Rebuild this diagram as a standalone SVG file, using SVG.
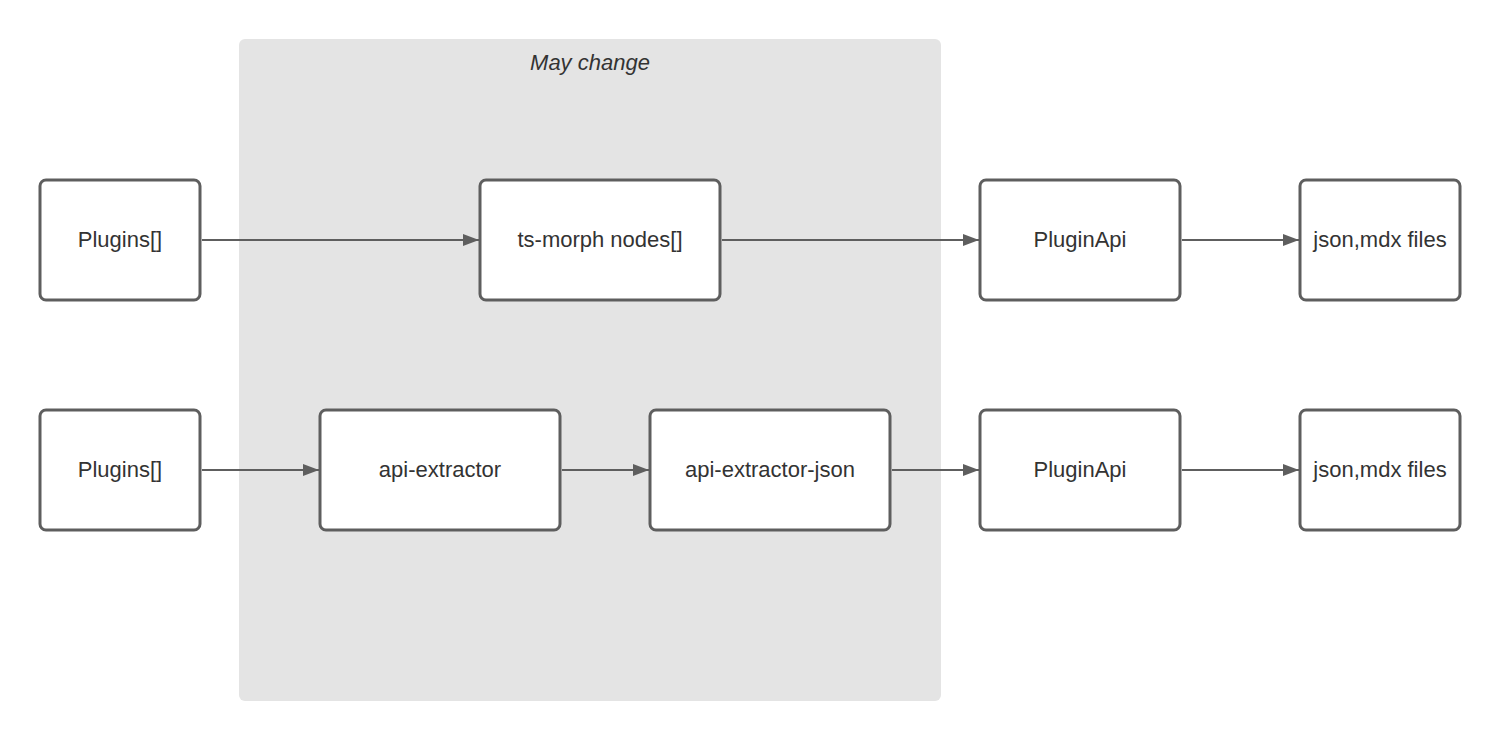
<svg xmlns="http://www.w3.org/2000/svg" width="1500" height="740" viewBox="0 0 1500 740">
<defs>
<style>
.box{fill:#ffffff;stroke:#5e5e5e;stroke-width:3}
.lbl{font-family:"Liberation Sans",Arial,sans-serif;font-size:22px;fill:#333333;text-anchor:middle}
.edge{stroke:#5e5e5e;stroke-width:2;fill:none;marker-end:url(#arr)}
</style>
<marker id="arr" viewBox="0 0 16 12" refX="16" refY="6" markerWidth="16" markerHeight="12" markerUnits="userSpaceOnUse" orient="auto">
<path d="M0,0 L16,6 L0,12 Z" fill="#5e5e5e"/>
</marker>
</defs>
<rect width="1500" height="740" fill="#ffffff"/>
<g id="group-may-change">
<rect x="239" y="39" width="702" height="662" rx="6" fill="#e4e4e4"/>
<text x="590" y="70" class="lbl" font-style="italic">May change</text>
</g>
<g id="connectors">
<line class="edge" x1="202" y1="240" x2="479" y2="240"/>
<line class="edge" x1="722" y1="240" x2="979" y2="240"/>
<line class="edge" x1="1182" y1="240" x2="1299" y2="240"/>
<line class="edge" x1="202" y1="470" x2="319" y2="470"/>
<line class="edge" x1="562" y1="470" x2="649" y2="470"/>
<line class="edge" x1="892" y1="470" x2="979" y2="470"/>
<line class="edge" x1="1182" y1="470" x2="1299" y2="470"/>
</g>
<g id="plugins1"><rect class="box" x="40" y="180" width="160" height="120" rx="6"/><text class="lbl" x="120" y="247">Plugins[]</text></g>
<g id="tsmorph"><rect class="box" x="480" y="180" width="240" height="120" rx="6"/><text class="lbl" x="600" y="247">ts-morph nodes[]</text></g>
<g id="pluginapi1"><rect class="box" x="980" y="180" width="200" height="120" rx="6"/><text class="lbl" x="1080" y="247">PluginApi</text></g>
<g id="files1"><rect class="box" x="1300" y="180" width="160" height="120" rx="6"/><text class="lbl" x="1380" y="247">json,mdx files</text></g>
<g id="plugins2"><rect class="box" x="40" y="410" width="160" height="120" rx="6"/><text class="lbl" x="120" y="477">Plugins[]</text></g>
<g id="apiextractor"><rect class="box" x="320" y="410" width="240" height="120" rx="6"/><text class="lbl" x="440" y="477">api-extractor</text></g>
<g id="apiextractorjson"><rect class="box" x="650" y="410" width="240" height="120" rx="6"/><text class="lbl" x="770" y="477">api-extractor-json</text></g>
<g id="pluginapi2"><rect class="box" x="980" y="410" width="200" height="120" rx="6"/><text class="lbl" x="1080" y="477">PluginApi</text></g>
<g id="files2"><rect class="box" x="1300" y="410" width="160" height="120" rx="6"/><text class="lbl" x="1380" y="477">json,mdx files</text></g>
</svg>
